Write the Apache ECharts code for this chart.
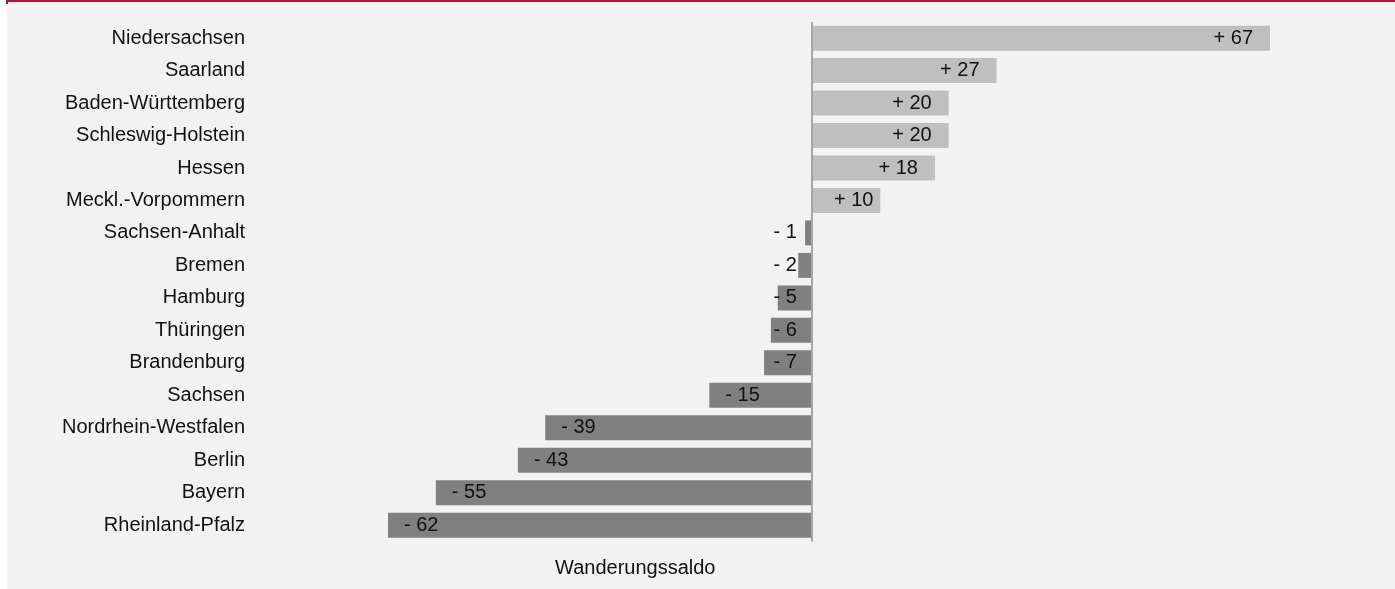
<!DOCTYPE html>
<html>
<head>
<meta charset="utf-8">
<script src="https://cdn.jsdelivr.net/npm/echarts@6/dist/echarts.min.js"></script>
<style>
  html, body { margin: 0; padding: 0; background: #ffffff; width: 1395px; height: 589px; overflow: hidden; }
  #bg { position: absolute; left: 7px; top: 0; right: 0; bottom: 0; background: #f2f2f2; border-top: 2px solid #a3193a; }
  #stub { position: absolute; left: 6px; top: 0; width: 2px; height: 4px; background: #a3193a; }
  #chart { position: absolute; left: 0; top: 0; width: 1395px; height: 589px; }
</style>
</head>
<body>
<div id="bg"></div>
<div id="stub"></div>
<div id="chart"></div>
<script>
const categories = ['Niedersachsen', 'Saarland', 'Baden-Württemberg', 'Schleswig-Holstein', 'Hessen', 'Meckl.-Vorpommern', 'Sachsen-Anhalt', 'Bremen', 'Hamburg', 'Thüringen', 'Brandenburg', 'Sachsen', 'Nordrhein-Westfalen', 'Berlin', 'Bayern', 'Rheinland-Pfalz'];
const values = [67, 27, 20, 20, 18, 10, -1, -2, -5, -6, -7, -15, -39, -43, -55, -62];
const axisTitle = 'Wanderungssaldo';

const FONT = "'Liberation Sans', Arial, sans-serif";
const FSIZE = 20;
const TEXT = '#111111';
const posColor = '#bfbfbf';
const negColor = '#808080';

function fmt(v) { return (v > 0 ? '+ ' : '- ') + Math.abs(v); }

const data = values.map(function (v) {
  let label;
  if (v >= 0) {
    label = v < 15 ? { position: 'insideLeft', distance: 22 } : { position: 'insideRight', distance: 17 };
  } else {
    label = v > -10 ? { position: 'insideRight', distance: 15 } : { position: 'insideLeft', distance: 16 };
  }
  return { value: v, itemStyle: { color: v >= 0 ? posColor : negColor }, label: label };
});

const chart = echarts.init(document.getElementById('chart'), null, { renderer: 'canvas' });
chart.setOption({
  backgroundColor: 'transparent',
  animation: false,
  grid: { left: 388, right: 125, top: 21.9, bottom: 47.6, containLabel: false },
  xAxis: {
    type: 'value',
    min: function (e) { return e.min; },
    max: function (e) { return e.max; },
    axisLine: { show: false }, axisTick: { show: false }, axisLabel: { show: false },
    splitLine: { show: false }
  },
  yAxis: {
    type: 'category',
    inverse: true,
    data: categories,
    axisLine: { show: false, onZero: false },
    axisTick: { show: false },
    axisLabel: { margin: 143, fontFamily: FONT, fontSize: FSIZE, color: TEXT }
  },
  graphic: [{
    type: 'text',
    left: 555, top: 558,
    style: { text: axisTitle, font: FSIZE + 'px ' + FONT, fill: TEXT }
  }],
  series: [{
    type: 'bar',
    data: data,
    barWidth: 25,
    label: { show: true, formatter: function (p) { return fmt(p.value); }, fontFamily: FONT, fontSize: FSIZE, color: TEXT },
    markLine: {
      silent: true,
      symbol: 'none',
      label: { show: false },
      lineStyle: { color: '#a6a6a6', width: 2, type: 'solid' },
      data: [{ xAxis: 0 }]
    }
  }]
});
</script>
</body>
</html>
